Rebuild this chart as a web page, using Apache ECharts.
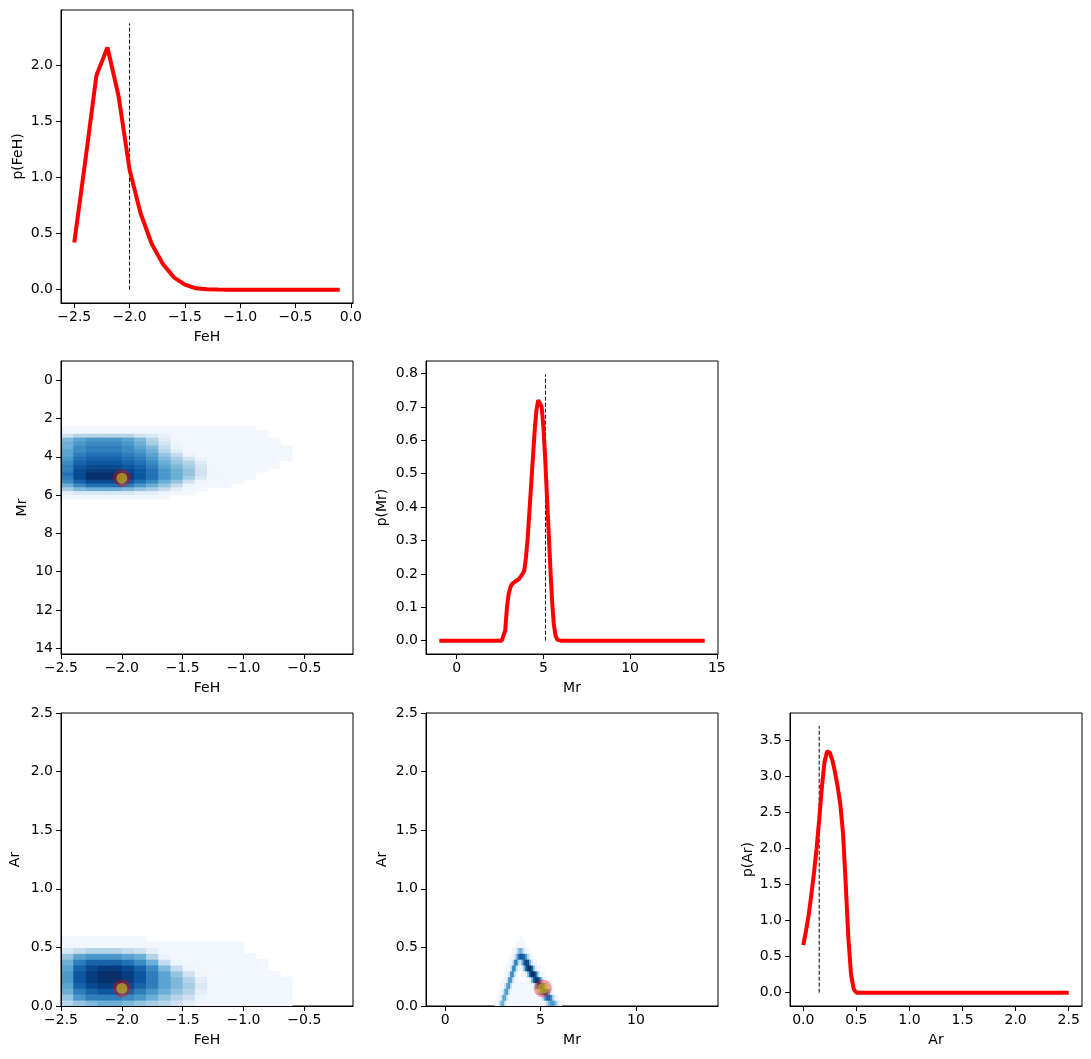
<!DOCTYPE html>
<html>
<head>
<meta charset="utf-8">
<script src="https://cdn.jsdelivr.net/npm/echarts@6/dist/echarts.min.js"></script>
<style>
html, body { margin: 0; padding: 0; background: #fff; }
#chart { width: 1091px; height: 1059px; }
</style>
</head>
<body>
<div id="chart"></div>
<script>
// 1D marginals
var fehX = [-2.5,-2.4,-2.3,-2.2,-2.1,-2.0,-1.9,-1.8,-1.7,-1.6,-1.5,-1.4,-1.3,-1.2,-1.1,-1.0,-0.9,-0.8,-0.7,-0.6,-0.5,-0.4,-0.3,-0.2,-0.1];
var pFeH = [0.42,1.15,1.91,2.16,1.73,1.07,0.68,0.41,0.23,0.11,0.045,0.012,0.003,0.001,0,0,0,0,0,0,0,0,0,0,0];

var mrX = [-1.0,2.6,2.7,2.8,2.9,3.0,3.1,3.2,3.3,3.4,3.5,3.6,3.7,3.8,3.9,4.0,4.1,4.2,4.3,4.4,4.5,4.6,4.7,4.75,4.8,4.9,5.0,5.1,5.2,5.3,5.4,5.5,5.6,5.7,5.8,5.9,6.0,14.3];
var pMr = [0,0,0.003,0.03,0.1,0.14,0.16,0.17,0.175,0.178,0.18,0.185,0.19,0.2,0.21,0.25,0.31,0.39,0.47,0.55,0.63,0.69,0.72,0.725,0.722,0.70,0.64,0.55,0.44,0.33,0.22,0.12,0.05,0.015,0.003,0,0,0];

var arX = [0,0.025,0.05,0.075,0.1,0.125,0.15,0.175,0.2,0.225,0.25,0.275,0.3,0.325,0.35,0.375,0.4,0.425,0.45,0.475,0.5,2.5];
var pAr = [0.66,0.85,1.07,1.35,1.65,2.0,2.4,2.85,3.2,3.35,3.33,3.22,3.05,2.85,2.6,2.2,1.5,0.75,0.25,0.05,0,0];

// true values [FeH, Mr, Ar] and the height of the dashed markers
var truthPoint = [-2.0, 5.12, 0.15];
var truthLineTop = [2.376, 0.7975, 3.7];

// tick labels
var fehTicksTop = [-2.5,-2.0,-1.5,-1.0,-0.5,0.0];
var fehTicks = [-2.5,-2.0,-1.5,-1.0,-0.5];
var pFeHTicks = [0.0,0.5,1.0,1.5,2.0];
var mrTicksY = [0,2,4,6,8,10,12,14];
var mrTicksMarg = [0,5,10,15];
var mrTicks = [0,5,10];
var pMrTicks = [0.0,0.1,0.2,0.3,0.4,0.5,0.6,0.7,0.8];
var arTicks = [0.0,0.5,1.0,1.5,2.0,2.5];
var pArTicks = [0.0,0.5,1.0,1.5,2.0,2.5,3.0,3.5];

// 2D density cells: left/bottom edges of each cell and an intensity (0 = empty, 10 = darkest)
var fehCols = [-2.5,-2.4,-2.3,-2.2,-2.1,-2.0,-1.9,-1.8,-1.7,-1.6,-1.5,-1.4,-1.3,-1.2,-1.1,-1.0,-0.9,-0.8,-0.7];
var mrRows = [2.4,2.6,2.8,3.0,3.2,3.4,3.6,3.8,4.0,4.2,4.4,4.6,4.8,5.0,5.2,5.4,5.6,5.8,6.0];
var fehMrGrid = [
  [.3,.3,.3,.3,.3,.3,.3,.3,.3,.3,.3,.3,.3,.3,.3,.3,0,0,0],
  [.3,.3,.3,.3,.3,.3,.3,.3,.3,.3,.3,.3,.3,.3,.3,.3,.3,0,0],
  [2,3,3,3,3,3,2,1.5,.8,.3,.3,.3,.3,.3,.3,.3,.3,0,0],
  [4.5,5.5,6,6,6,5.5,4.5,3,1.2,.3,.3,.3,.3,.3,.3,.3,.3,.3,0],
  [5,6,6.5,6.5,6.5,6,5,3.5,1.8,.5,.3,.3,.3,.3,.3,.3,.3,.3,0],
  [5,6.5,7,7,7,6.5,5.5,4.5,2.5,.6,.3,.3,.3,.3,.3,.3,.3,.3,.3],
  [5.5,6.5,7,7,7,6.5,6,5,3,1.2,.3,.3,.3,.3,.3,.3,.3,.3,.3],
  [5.5,7,7.5,7.5,7.5,7,6.5,5.5,4,2.5,.6,.3,.3,.3,.3,.3,.3,.3,.3],
  [6,7.5,8,8,8,7.5,7,6,4.5,3.5,1.8,.5,.3,.3,.3,.3,.3,.3,.3],
  [6.5,8,8.5,8.5,8.5,8,7.5,6.5,5,4,3,1.2,.3,.3,.3,.3,.3,.3,0],
  [7,8.5,9,9,9,8.5,8,7,5.5,4.5,3.5,1.8,.3,.3,.3,.3,.3,.3,0],
  [7,9,9.5,9.5,9.5,9,8.5,7.5,6,5,4,2,.4,.3,.3,.3,.3,0,0],
  [7.5,9,10,10,10,9.5,8.5,7.5,6,5,4,2,.4,.3,.3,.3,0,0,0],
  [7,9,10,10,10,9.5,8.5,7.5,6,5,3.5,1.5,.3,.3,.3,.3,0,0,0],
  [6.5,8,9,9,9,8.5,7.5,6.5,5,4,2,.5,.3,.3,.3,0,0,0,0],
  [5,6.5,7.5,7.5,7.5,7,6,5,4,2.5,.5,.3,.3,.3,0,0,0,0,0],
  [3.5,4.5,5,5,5,4.5,4,3.5,2.5,1,.3,.3,0,0,0,0,0,0,0],
  [1,1.5,1.5,1.5,1.5,1.5,1,1,.5,.3,.3,0,0,0,0,0,0,0,0],
  [.3,.3,.3,.3,.3,.3,.3,.3,.3,0,0,0,0,0,0,0,0,0,0]
];

var arRows = [0,0.05,0.1,0.15,0.2,0.25,0.3,0.35,0.4,0.45,0.5,0.55];
var fehArGrid = [
  [3,4,4.5,5,5,4.5,4,3.5,3,2,1,.3,.3,.3,.3,.3,.3,.3,.3],
  [4,6,7,7,7,6.5,6,5,4,3,2,.5,.3,.3,.3,.3,.3,.3,.3],
  [5,7,8,8.5,8.5,8,7,6,5,4,3,1,.3,.3,.3,.3,.3,.3,.3],
  [5.5,8,9,9.5,9.5,9,8,7,5.5,4.5,3.5,1.5,.3,.3,.3,.3,.3,.3,.3],
  [6,8.5,9.5,10,10,9.5,8.5,7,5.5,4.5,3,1,.3,.3,.3,.3,.3,.3,.3],
  [6,8.5,9.5,10,10,9.5,8.5,7,5.5,4,2,.4,.3,.3,.3,.3,.3,.3,0],
  [5.5,8,9,9.5,9.5,9,8,6.5,4.5,2.5,.5,.3,.3,.3,.3,.3,.3,0,0],
  [5,7,8,8,8,7.5,6.5,5,2.5,.5,.3,.3,.3,.3,.3,.3,.3,0,0],
  [4,5.5,6,6,6,5.5,5,3,.6,.3,.3,.3,.3,.3,.3,.3,0,0,0],
  [1.5,2.5,3,3,3,2.5,2,1,.3,.3,.3,.3,.3,.3,.3,0,0,0,0],
  [.3,.3,.3,.3,.3,.3,.3,.3,.3,.3,.3,.3,.3,.3,.3,0,0,0,0],
  [.3,.3,.3,.3,.3,.3,.3,0,0,0,0,0,0,0,0,0,0,0,0]
];

var mrCols = [2.5,2.6,2.7,2.8,2.9,3.0,3.1,3.2,3.3,3.4,3.5,3.6,3.7,3.8,3.9,4.0,4.1,4.2,4.3,4.4,4.5,4.6,4.7,4.8,4.9,5.0,5.1,5.2,5.3,5.4,5.5,5.6,5.7,5.8,5.9,6.0,6.1,6.2];
var mrArGrid = [
  [0,.3,.3,2,5,5,2,.3,.3,.3,.3,.3,.3,.3,.3,.3,.3,.3,.3,.3,.3,.3,.3,.3,.3,.3,.3,1,3,5,6,6,5,3,1,.3,0,0],
  [0,0,.3,.3,2,5.5,5.5,2,.3,.3,.3,.3,.3,.3,.3,.3,.3,.3,.3,.3,.3,.3,.3,.3,.3,1,3.5,6.5,8,8,6.5,3.5,1,.3,0,0,0,0],
  [0,0,0,.3,.3,2,5.5,6,2.5,.3,.3,.3,.3,.3,.3,.3,.3,.3,.3,.3,.3,.3,.3,1,4,7,9,9,7,4,1,.3,0,0,0,0,0,0],
  [0,0,0,0,.3,.3,2,5.5,6,2.5,.3,.3,.3,.3,.3,.3,.3,.3,.3,.3,.3,1,4,7.5,9.5,9.5,7.5,4,1,.3,.3,0,0,0,0,0,0,0],
  [0,0,0,0,0,.3,.3,2,6,6,2.5,.3,.3,0,0,0,0,.3,.3,1,4.5,8,10,10,8,4.5,1,.3,0,0,0,0,0,0,0,0,0,0],
  [0,0,0,0,0,0,.3,.3,2,6,6.5,2.5,.3,0,0,.3,.3,1,4.5,8.5,10,10,8.5,4.5,1,.3,.3,0,0,0,0,0,0,0,0,0,0,0],
  [0,0,0,0,0,0,0,.3,.3,2,6.5,6.5,2.5,.3,.3,1,4.5,8.5,10,10,8.5,4.5,1,.3,.3,0,0,0,0,0,0,0,0,0,0,0,0,0],
  [0,0,0,0,0,0,0,0,.3,.3,2,6.5,7,3,2,5,8.5,9.5,9,5,1.5,.3,.3,0,0,0,0,0,0,0,0,0,0,0,0,0,0,0],
  [0,0,0,0,0,0,0,0,0,.3,.3,1.5,4.5,7.5,8.5,8.5,8,6,3,1,.3,0,0,0,0,0,0,0,0,0,0,0,0,0,0,0,0,0],
  [0,0,0,0,0,0,0,0,0,0,.3,.3,1.5,4,5,4,1.5,.3,.3,0,0,0,0,0,0,0,0,0,0,0,0,0,0,0,0,0,0,0],
  [0,0,0,0,0,0,0,0,0,0,0,0,.3,.3,.3,.3,.3,0,0,0,0,0,0,0,0,0,0,0,0,0,0,0,0,0,0,0,0,0],
  [0,0,0,0,0,0,0,0,0,0,0,0,0,0,.3,.3,0,0,0,0,0,0,0,0,0,0,0,0,0,0,0,0,0,0,0,0,0,0]
];

var blues = ['#f7fbff','#deebf7','#c6dbef','#9ecae1','#6baed6','#4292c6','#2171b5','#08519c','#08306b'];
var FONT = 'DejaVu Sans';

function zip(xs, ys) {
    var out = [];
    for (var i = 0; i < xs.length; i++) out.push([xs[i], ys[i]]);
    return out;
}
function cells(cols, rows, grid) {
    var out = [];
    for (var i = 0; i < rows.length; i++) {
        for (var j = 0; j < cols.length; j++) {
            if (grid[i][j] > 0) out.push([cols[j], rows[i], grid[i][j]]);
        }
    }
    return out;
}
function fmt(dec) {
    return function (v) { return v.toFixed(dec).replace('-', '\u2212'); };
}

var gridLeft = [61, 61, 426, 61, 426, 790];
var gridTop = [10, 361, 361, 713, 713, 713];
var grids = gridLeft.map(function (l, i) {
    return { left: l, top: gridTop[i], width: 292, height: 293, show: true,
             borderColor: '#000', borderWidth: 1, backgroundColor: 'transparent',
             outerBoundsMode: 'none' };
});

function axis(dim, gi, min, max, ticks, dec, name, gap, inverse) {
    return {
        type: 'value', gridIndex: gi, min: min, max: max, inverse: !!inverse, z: 5,
        name: name, nameLocation: 'middle', nameGap: gap,
        nameTextStyle: { color: '#000', fontSize: 14, fontFamily: FONT },
        axisLine: { show: true, onZero: false, lineStyle: { color: '#000', width: 1 } },
        axisTick: { show: true, length: 5, customValues: ticks, lineStyle: { color: '#000', width: 1 } },
        axisLabel: { customValues: ticks, margin: dim === 'x' ? 7 : 8, color: '#000',
                     fontSize: 14, fontFamily: FONT, formatter: fmt(dec) },
        splitLine: { show: false }
    };
}

var xAxes = [
    axis('x', 0, -2.62, 0.02, fehTicksTop, 1, 'FeH', 27),
    axis('x', 1, -2.5, -0.1, fehTicks, 1, 'FeH', 27),
    axis('x', 2, -1.765, 15.065, mrTicksMarg, 0, 'Mr', 27),
    axis('x', 3, -2.5, -0.1, fehTicks, 1, 'FeH', 27),
    axis('x', 4, -1.0, 14.3, mrTicks, 0, 'Mr', 27),
    axis('x', 5, -0.125, 2.625, arTicks, 1, 'Ar', 27)
];
var yAxes = [
    axis('y', 0, -0.119, 2.495, pFeHTicks, 1, 'p(FeH)', 36),
    axis('y', 1, -1.0, 14.3, mrTicksY, 0, 'Mr', 32, true),
    axis('y', 2, -0.0399, 0.8374, pMrTicks, 1, 'p(Mr)', 37),
    axis('y', 3, 0, 2.5, arTicks, 1, 'Ar', 39),
    axis('y', 4, 0, 2.5, arTicks, 1, 'Ar', 37),
    axis('y', 5, -0.185, 3.881, pArTicks, 1, 'p(Ar)', 35)
];

function cellSeries(gi, cw, ch, data) {
    return {
        type: 'custom', xAxisIndex: gi, yAxisIndex: gi, z: 1, silent: true,
        encode: { x: 0, y: 1 }, data: data,
        renderItem: function (params, api) {
            var x0 = api.value(0), y0 = api.value(1);
            var a = api.coord([x0, y0]);
            var b = api.coord([x0 + cw, y0 + ch]);
            return {
                type: 'rect',
                shape: { x: Math.min(a[0], b[0]), y: Math.min(a[1], b[1]),
                         width: Math.abs(b[0] - a[0]) + 0.5, height: Math.abs(b[1] - a[1]) + 0.5 },
                style: { fill: api.visual('color') }
            };
        }
    };
}
function margLine(gi, data) {
    return { type: 'line', xAxisIndex: gi, yAxisIndex: gi, data: data, showSymbol: false, z: 4,
             lineStyle: { color: '#ff0000', width: 4 }, silent: true };
}
function truthLine(gi, x, top) {
    return { type: 'line', xAxisIndex: gi, yAxisIndex: gi, data: [[x, 0], [x, top]], showSymbol: false, z: 3,
             lineStyle: { color: '#000', width: 1, type: [4, 2] }, silent: true };
}
function truthDot(gi, x, y) {
    return [
        { type: 'scatter', xAxisIndex: gi, yAxisIndex: gi, data: [[x, y]], symbolSize: 18, z: 6,
          itemStyle: { color: 'rgba(255,0,0,0.45)' }, silent: true },
        { type: 'scatter', xAxisIndex: gi, yAxisIndex: gi, data: [[x, y]], symbolSize: 11, z: 7,
          itemStyle: { color: 'rgba(200,190,20,0.8)' }, silent: true }
    ];
}

var series = [
    cellSeries(1, 0.1, 0.2, cells(fehCols, mrRows, fehMrGrid)),
    cellSeries(3, 0.1, 0.05, cells(fehCols, arRows, fehArGrid)),
    cellSeries(4, 0.1, 0.05, cells(mrCols, arRows, mrArGrid)),
    truthLine(0, truthPoint[0], truthLineTop[0]),
    margLine(0, zip(fehX, pFeH)),
    truthLine(2, truthPoint[1], truthLineTop[1]),
    margLine(2, zip(mrX, pMr)),
    truthLine(5, truthPoint[2], truthLineTop[2]),
    margLine(5, zip(arX, pAr))
].concat(
    truthDot(1, truthPoint[0], truthPoint[1]),
    truthDot(3, truthPoint[0], truthPoint[2]),
    truthDot(4, truthPoint[1], truthPoint[2])
);

var chart = echarts.init(document.getElementById('chart'), null, { renderer: 'canvas' });
chart.setOption({
    animation: false,
    backgroundColor: '#fff',
    grid: grids,
    xAxis: xAxes,
    yAxis: yAxes,
    visualMap: {
        type: 'continuous', show: false, seriesIndex: [0, 1, 2], dimension: 2,
        min: 0, max: 10, inRange: { color: blues }
    },
    series: series
});
</script>
</body>
</html>
